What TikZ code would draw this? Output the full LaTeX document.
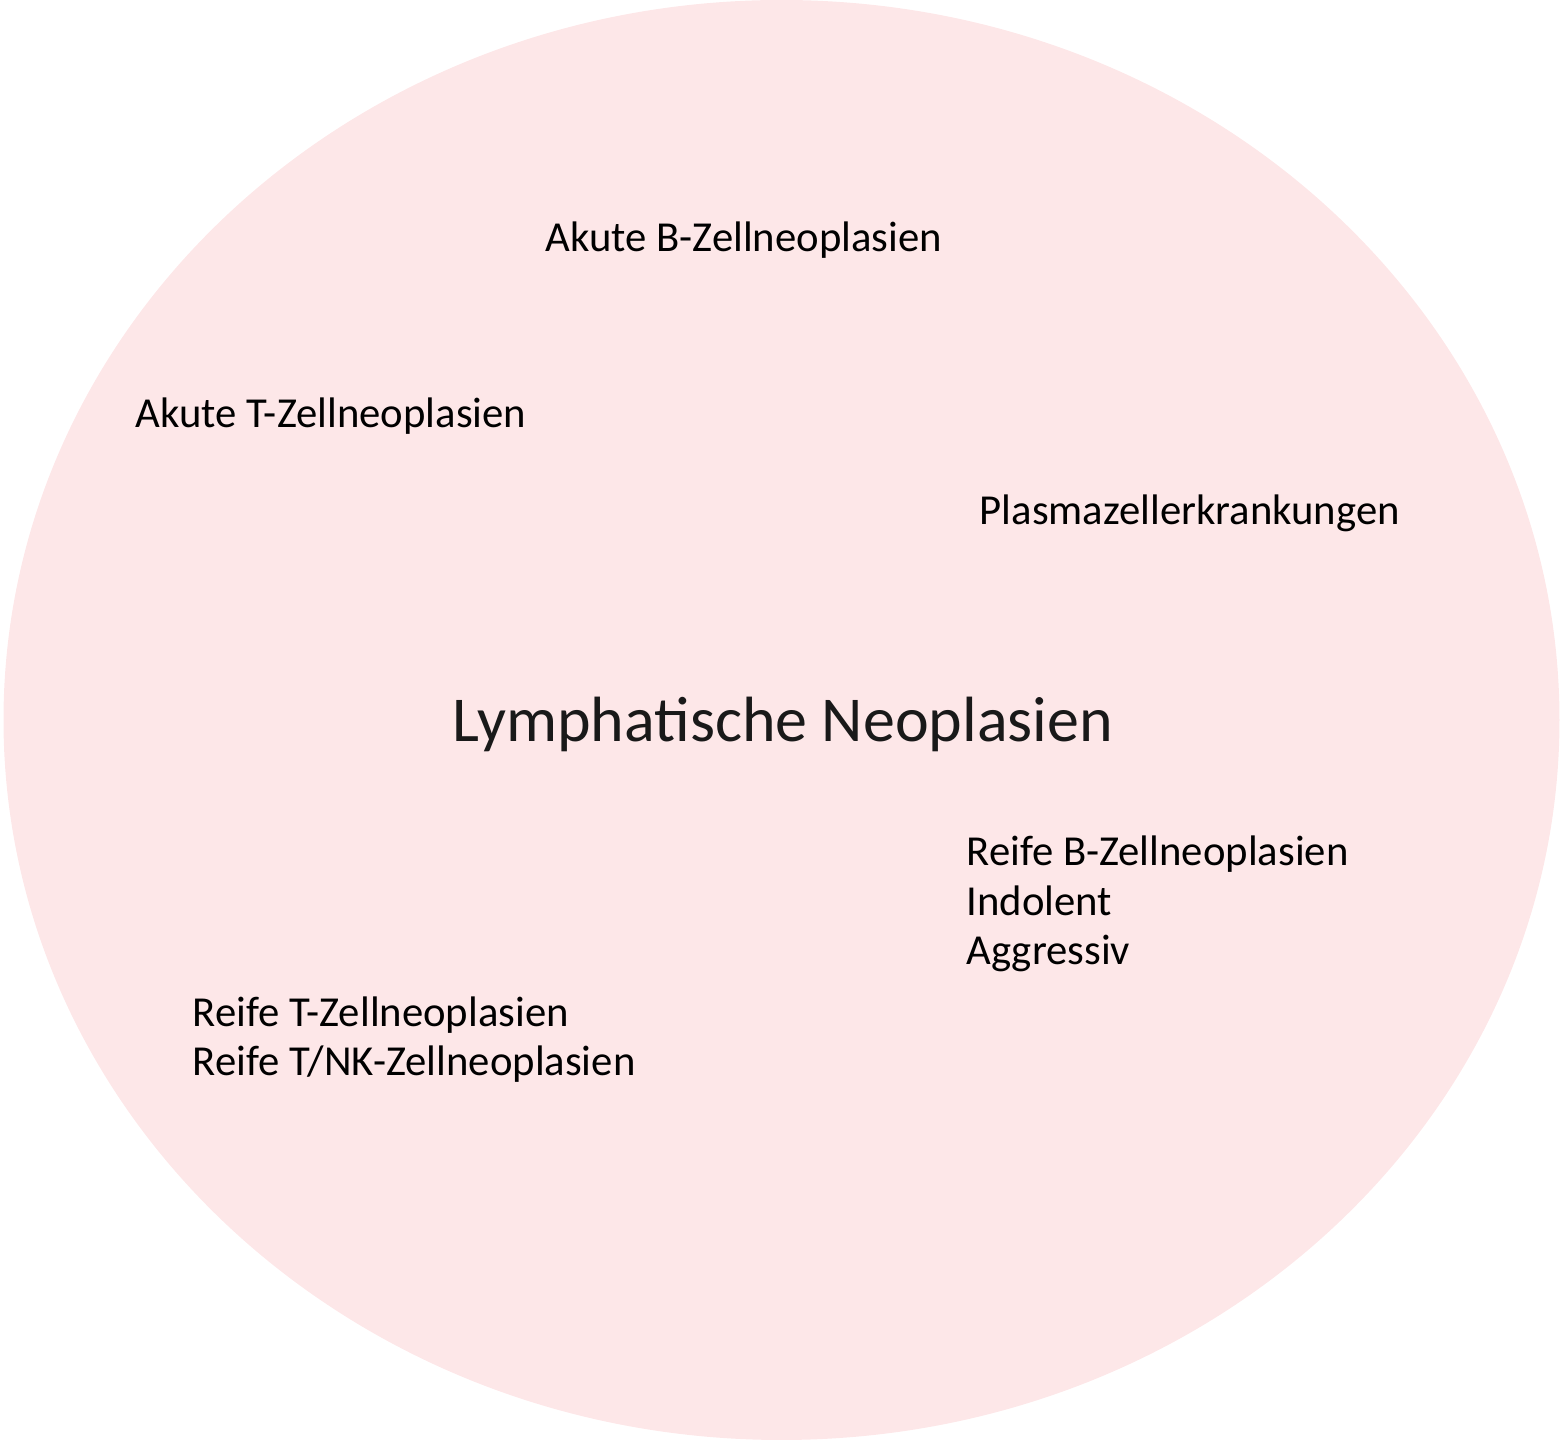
\documentclass[tikz,border=0pt]{standalone}
\usepackage{fontspec}
\setmainfont{Carlito}
\usepackage{xcolor}
\usepackage{tikz}
\usetikzlibrary{positioning}
\definecolor{pinkfill}{RGB}{253,231,232}

\begin{document}
\begin{tikzpicture}[
    group/.style={anchor=base west, inner sep=0pt, align=left, font=\fontsize{12.15pt}{14.2pt}\selectfont, text=black},
    title/.style={anchor=base west, inner sep=0pt, font=\fontsize{18.2pt}{21.8pt}\selectfont, text=black!90}
]
\useasboundingbox (0,0) rectangle (15.63,14.40);
% Outer ellipse
\fill[pinkfill] (7.815,7.20) ellipse [x radius=7.78, y radius=7.20];

% Main label
\node[title] (lymph) at (4.52,6.98) {Lymphatische Neoplasien};

% Subgroups
\node[group] (akuteb) at (5.45,11.88) {Akute B-Zellneoplasien};
\node[group] (akutet) at (1.35,10.12) {Akute T-Zellneoplasien};
\node[group] (plasma) at (9.79,9.15) {Plasmazellerkrankungen};
\node[group] (reifeb) at (9.66,4.75) {Reife B-Zellneoplasien\\Indolent\\Aggressiv};
\node[group] (reifet) at (1.92,3.64) {Reife T-Zellneoplasien\\Reife T/NK-Zellneoplasien};
\end{tikzpicture}
\end{document}
